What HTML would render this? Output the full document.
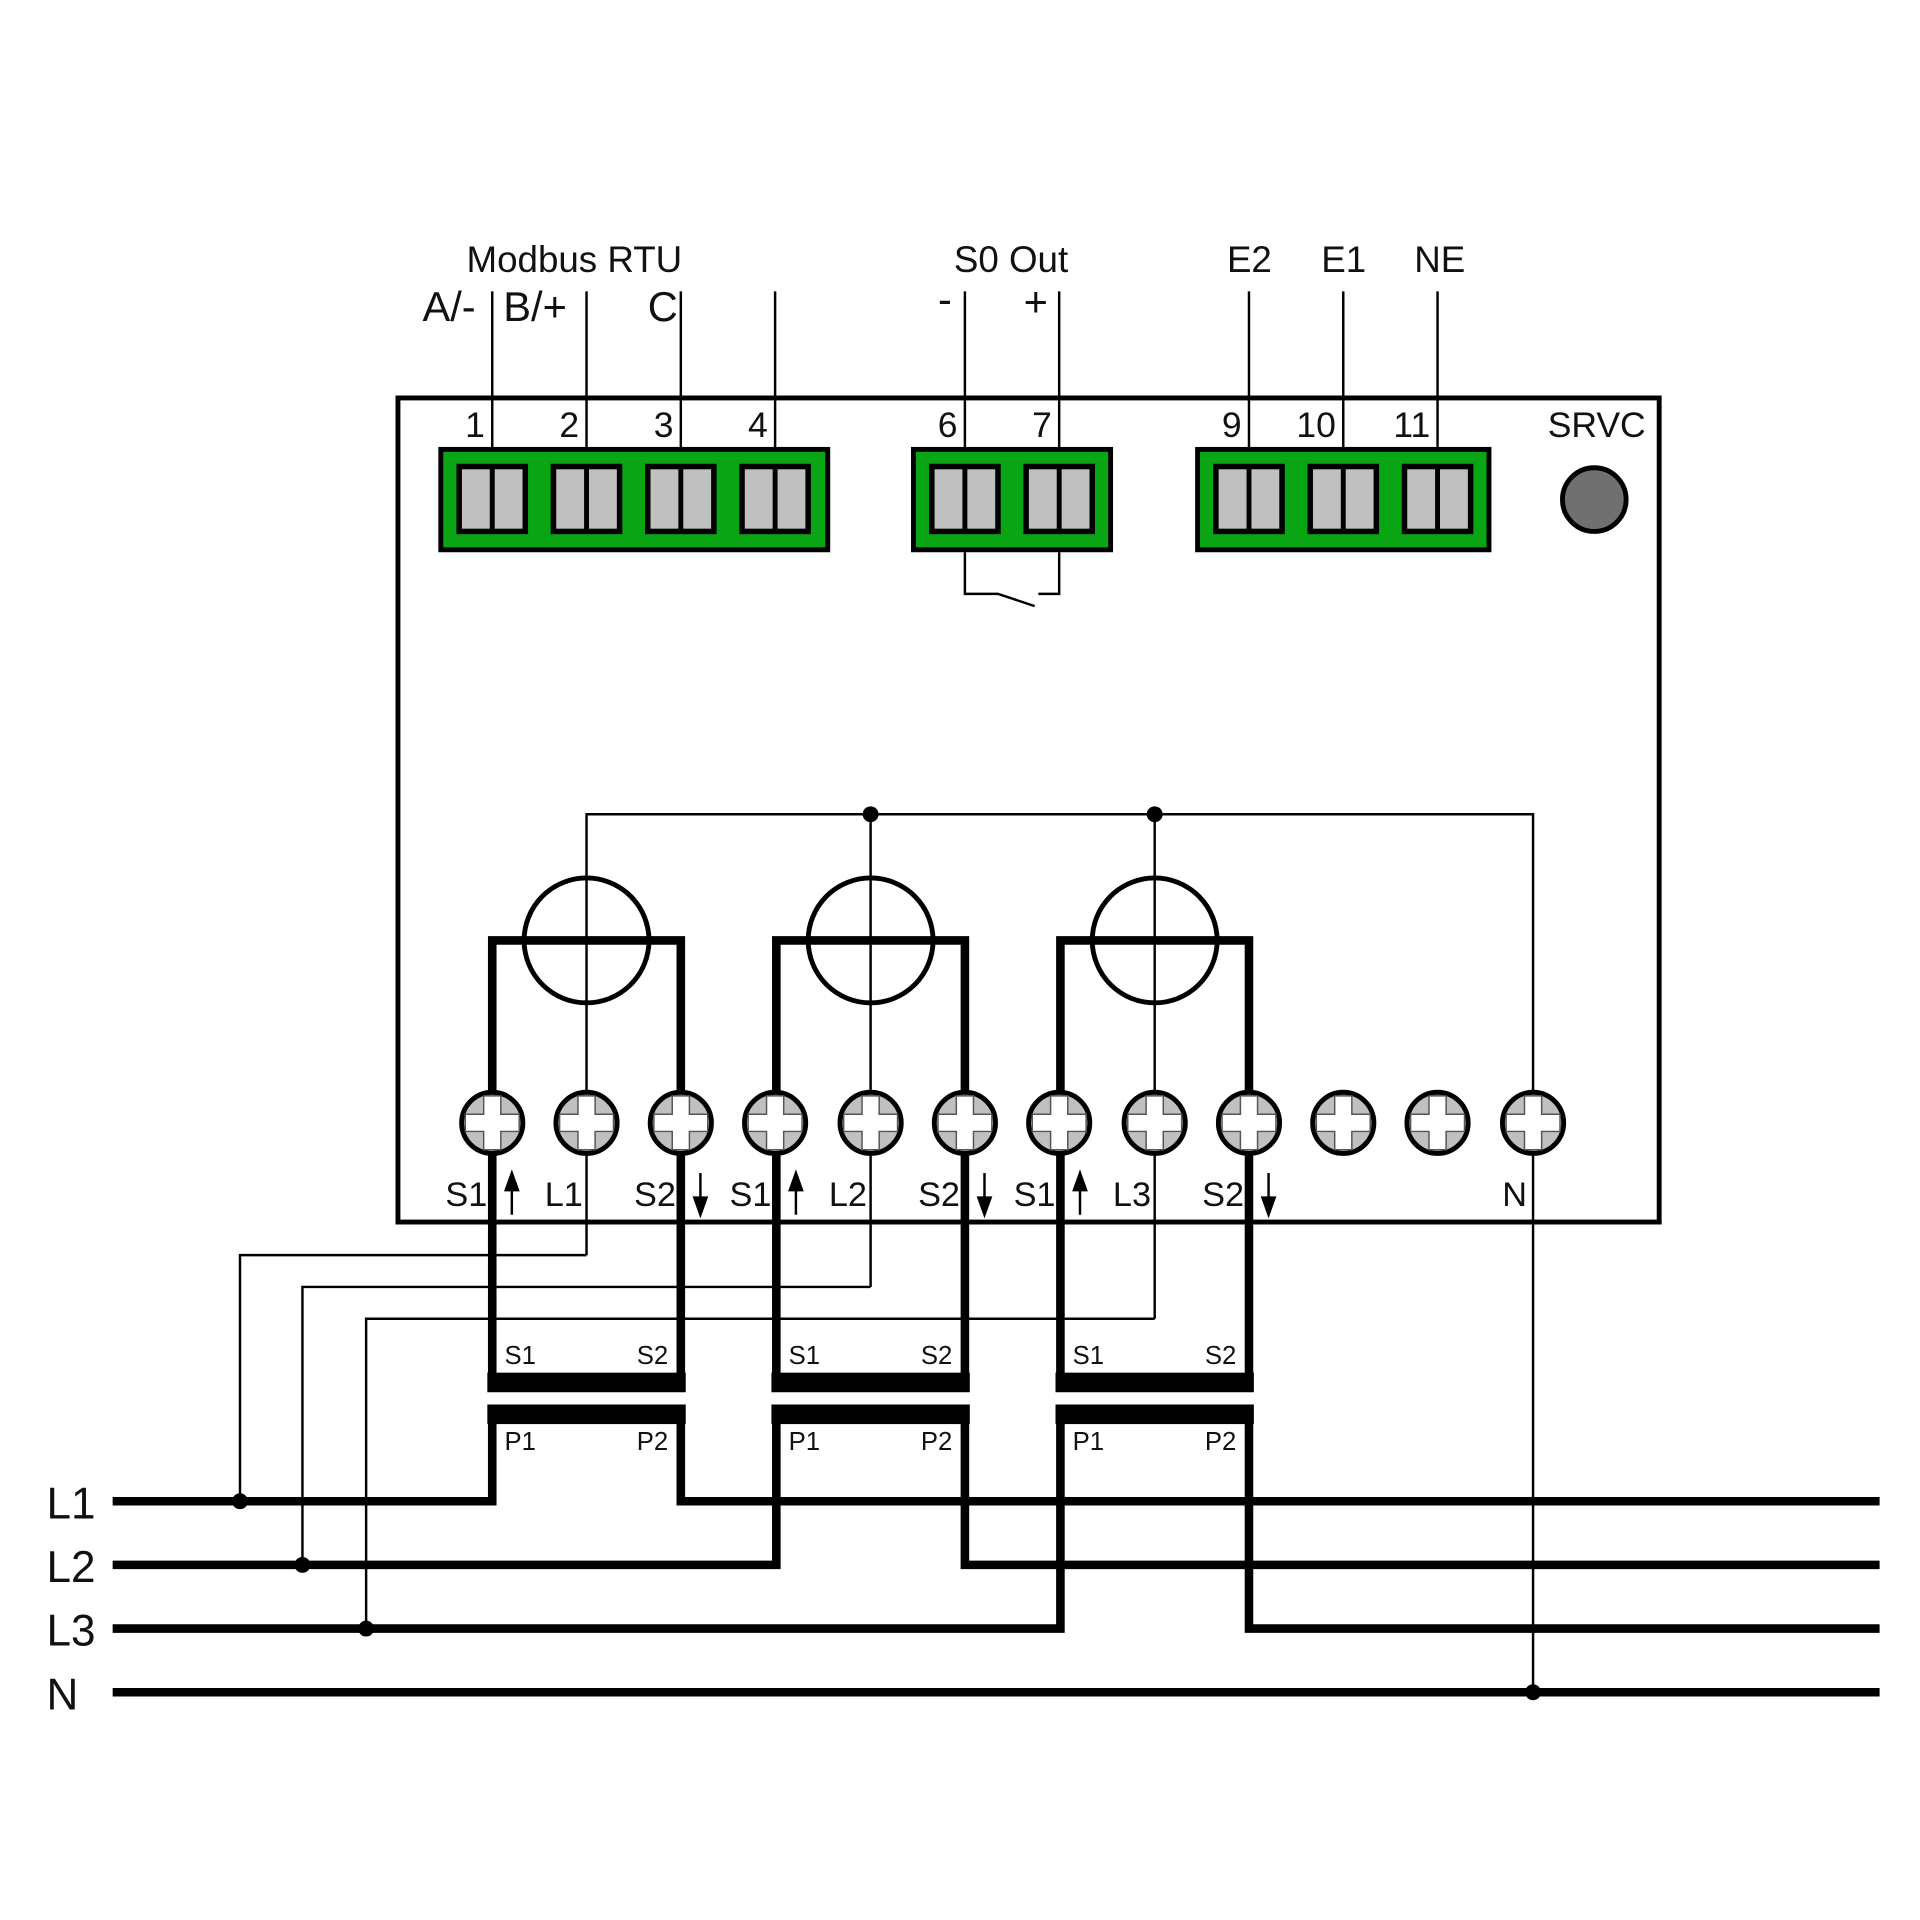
<!DOCTYPE html>
<html><head><meta charset="utf-8"><style>html,body{margin:0;padding:0;background:#fff}svg{display:block}text{font-family:"Liberation Sans","DejaVu Sans",sans-serif;fill:#111}</style></head>
<body>
<svg width="1920" height="1920" viewBox="0 0 1568 1568" xmlns="http://www.w3.org/2000/svg">
<rect width="1568" height="1568" fill="#fff"/>
<!-- top labels -->
<g font-size="30">
<text x="381" y="222">Modbus RTU</text>
<text x="779" y="222">S0 Out</text>
<text x="1002" y="222">E2</text>
<text x="1079" y="222">E1</text>
<text x="1155" y="222">NE</text>
</g>
<g font-size="34">
<text x="345" y="262">A/-</text>
<text x="411" y="262">B/+</text>
<text x="529" y="262">C</text>
<text x="766" y="256">-</text>
<text x="836" y="258">+</text>
</g>
<!-- device box -->
<rect x="325" y="325" width="1030" height="673" fill="none" stroke="#000" stroke-width="4"/>
<!-- top wires -->
<g stroke="#000" stroke-width="2">
<line x1="402" y1="238" x2="402" y2="368"/><line x1="479" y1="238" x2="479" y2="368"/>
<line x1="556" y1="238" x2="556" y2="368"/><line x1="633" y1="238" x2="633" y2="368"/>
<line x1="788" y1="238" x2="788" y2="368"/><line x1="865" y1="238" x2="865" y2="368"/>
<line x1="1020" y1="238" x2="1020" y2="368"/><line x1="1097" y1="238" x2="1097" y2="368"/>
<line x1="1174" y1="238" x2="1174" y2="368"/>
</g>
<g font-size="29" text-anchor="end">
<text x="396" y="357">1</text><text x="473" y="357">2</text><text x="550" y="357">3</text><text x="627" y="357">4</text>
<text x="782" y="357">6</text><text x="859" y="357">7</text>
<text x="1014" y="357">9</text><text x="1091" y="357">10</text><text x="1168" y="357">11</text>
<text x="1344" y="357">SRVC</text>
</g>
<!-- green blocks -->
<g fill="#0aa514" stroke="#000" stroke-width="4">
<rect x="360" y="367" width="316" height="82"/>
<rect x="746" y="367" width="161" height="82"/>
<rect x="978" y="367" width="238" height="82"/>
</g>
<g fill="#c0c0c0" stroke="#000" stroke-width="4.5">
<rect x="375" y="381" width="54" height="53"/><rect x="452" y="381" width="54" height="53"/>
<rect x="529" y="381" width="54" height="53"/><rect x="606" y="381" width="54" height="53"/>
<rect x="761" y="381" width="54" height="53"/><rect x="838" y="381" width="54" height="53"/>
<rect x="993" y="381" width="54" height="53"/><rect x="1070" y="381" width="54" height="53"/>
<rect x="1147" y="381" width="54" height="53"/>
</g>
<g stroke="#000" stroke-width="4">
<line x1="402" y1="381" x2="402" y2="434"/><line x1="479" y1="381" x2="479" y2="434"/>
<line x1="556" y1="381" x2="556" y2="434"/><line x1="633" y1="381" x2="633" y2="434"/>
<line x1="788" y1="381" x2="788" y2="434"/><line x1="865" y1="381" x2="865" y2="434"/>
<line x1="1020" y1="381" x2="1020" y2="434"/><line x1="1097" y1="381" x2="1097" y2="434"/>
<line x1="1174" y1="381" x2="1174" y2="434"/>
</g>
<circle cx="1302" cy="408" r="26" fill="#707070" stroke="#000" stroke-width="4"/>
<!-- relay -->
<g fill="none" stroke="#000" stroke-width="2">
<polyline points="788,451 788,485 815,485 845,495"/>
<polyline points="865,451 865,485 848,485"/>
</g>
<!-- internal thin wiring -->
<g fill="none" stroke="#000" stroke-width="2">
<polyline points="479,1025 479,665 1252,665 1252,1382"/>
<line x1="711" y1="665" x2="711" y2="1051"/>
<line x1="943" y1="665" x2="943" y2="1077"/>
<polyline points="479,1025 196,1025 196,1226"/>
<polyline points="711,1051 247,1051 247,1278"/>
<polyline points="943,1077 299,1077 299,1330"/>
</g>
<g fill="#000">
<circle cx="711" cy="665" r="6.5"/><circle cx="943" cy="665" r="6.5"/>
<circle cx="196" cy="1226" r="6.5"/><circle cx="247" cy="1278" r="6.5"/>
<circle cx="299" cy="1330" r="6.5"/><circle cx="1252" cy="1382" r="6.5"/>
</g>
<!-- CT circles -->
<g fill="none" stroke="#000" stroke-width="4">
<circle cx="479" cy="768" r="51"/><circle cx="711" cy="768" r="51"/><circle cx="943" cy="768" r="51"/>
</g>
<!-- thick CT loops -->
<g fill="none" stroke="#000" stroke-width="7" stroke-linejoin="miter" stroke-linecap="square">
<polyline points="402,1129 402,768 556,768 556,1129"/>
<polyline points="634,1129 634,768 788,768 788,1129"/>
<polyline points="866,1129 866,768 1020,768 1020,1129"/>
</g>
<g fill="#000">
<rect x="398" y="1121" width="162" height="16"/>
<rect x="630" y="1121" width="162" height="16"/>
<rect x="862" y="1121" width="162" height="16"/>
<rect x="398" y="1147" width="162" height="16"/>
<rect x="630" y="1147" width="162" height="16"/>
<rect x="862" y="1147" width="162" height="16"/>
</g>
<g font-size="21">
<text x="412" y="1114">S1</text><text x="520" y="1114">S2</text>
<text x="644" y="1114">S1</text><text x="752" y="1114">S2</text>
<text x="876" y="1114">S1</text><text x="984" y="1114">S2</text>
<text x="412" y="1184">P1</text><text x="520" y="1184">P2</text>
<text x="644" y="1184">P1</text><text x="752" y="1184">P2</text>
<text x="876" y="1184">P1</text><text x="984" y="1184">P2</text>
</g>
<!-- buses -->
<g fill="none" stroke="#000" stroke-width="7" stroke-linejoin="miter">
<polyline points="92,1226 402,1226 402,1160"/>
<polyline points="556,1160 556,1226 1535,1226"/>
<polyline points="92,1278 634,1278 634,1160"/>
<polyline points="788,1160 788,1278 1535,1278"/>
<polyline points="92,1330 866,1330 866,1160"/>
<polyline points="1020,1160 1020,1330 1535,1330"/>
<line x1="92" y1="1382" x2="1535" y2="1382"/>
</g>
<g font-size="36">
<text x="38" y="1240">L1</text><text x="38" y="1292">L2</text>
<text x="38" y="1344">L3</text><text x="38" y="1396">N</text>
</g>
<!-- screws -->
<g id="screws">
<g fill="#c0c0c0" stroke="#000" stroke-width="4">
<circle cx="402" cy="917" r="25"/><circle cx="479" cy="917" r="25"/><circle cx="556" cy="917" r="25"/>
<circle cx="633" cy="917" r="25"/><circle cx="711" cy="917" r="25"/><circle cx="788" cy="917" r="25"/>
<circle cx="865" cy="917" r="25"/><circle cx="943" cy="917" r="25"/><circle cx="1020" cy="917" r="25"/>
<circle cx="1097" cy="917" r="25"/><circle cx="1174" cy="917" r="25"/><circle cx="1252" cy="917" r="25"/>
</g>
<g fill="#fff" stroke="#555" stroke-width="1.2">
<path d="M-7,-22h14v15h15v14h-15v15h-14v-15h-15v-14h15z" transform="translate(402,917)"/>
<path d="M-7,-22h14v15h15v14h-15v15h-14v-15h-15v-14h15z" transform="translate(479,917)"/>
<path d="M-7,-22h14v15h15v14h-15v15h-14v-15h-15v-14h15z" transform="translate(556,917)"/>
<path d="M-7,-22h14v15h15v14h-15v15h-14v-15h-15v-14h15z" transform="translate(633,917)"/>
<path d="M-7,-22h14v15h15v14h-15v15h-14v-15h-15v-14h15z" transform="translate(711,917)"/>
<path d="M-7,-22h14v15h15v14h-15v15h-14v-15h-15v-14h15z" transform="translate(788,917)"/>
<path d="M-7,-22h14v15h15v14h-15v15h-14v-15h-15v-14h15z" transform="translate(865,917)"/>
<path d="M-7,-22h14v15h15v14h-15v15h-14v-15h-15v-14h15z" transform="translate(943,917)"/>
<path d="M-7,-22h14v15h15v14h-15v15h-14v-15h-15v-14h15z" transform="translate(1020,917)"/>
<path d="M-7,-22h14v15h15v14h-15v15h-14v-15h-15v-14h15z" transform="translate(1097,917)"/>
<path d="M-7,-22h14v15h15v14h-15v15h-14v-15h-15v-14h15z" transform="translate(1174,917)"/>
<path d="M-7,-22h14v15h15v14h-15v15h-14v-15h-15v-14h15z" transform="translate(1252,917)"/>
</g>
</g>
<!-- bottom terminal labels -->
<g font-size="28" text-anchor="end">
<text x="398" y="985">S1</text><text x="476" y="985">L1</text><text x="552" y="985">S2</text>
<text x="630" y="985">S1</text><text x="708" y="985">L2</text><text x="784" y="985">S2</text>
<text x="862" y="985">S1</text><text x="940" y="985">L3</text><text x="1016" y="985">S2</text>
<text x="1247" y="985">N</text>
</g>
<!-- arrows -->
<g stroke="#000" stroke-width="2" fill="#000">
<line x1="418" y1="992" x2="418" y2="966"/><path d="M413,972 L418,958 L423,972Z"/>
<line x1="650" y1="992" x2="650" y2="966"/><path d="M645,972 L650,958 L655,972Z"/>
<line x1="882" y1="992" x2="882" y2="966"/><path d="M877,972 L882,958 L887,972Z"/>
<line x1="572" y1="958" x2="572" y2="984"/><path d="M567,978 L572,992 L577,978Z"/>
<line x1="804" y1="958" x2="804" y2="984"/><path d="M799,978 L804,992 L809,978Z"/>
<line x1="1036" y1="958" x2="1036" y2="984"/><path d="M1031,978 L1036,992 L1041,978Z"/>
</g>
</svg>
</body></html>
